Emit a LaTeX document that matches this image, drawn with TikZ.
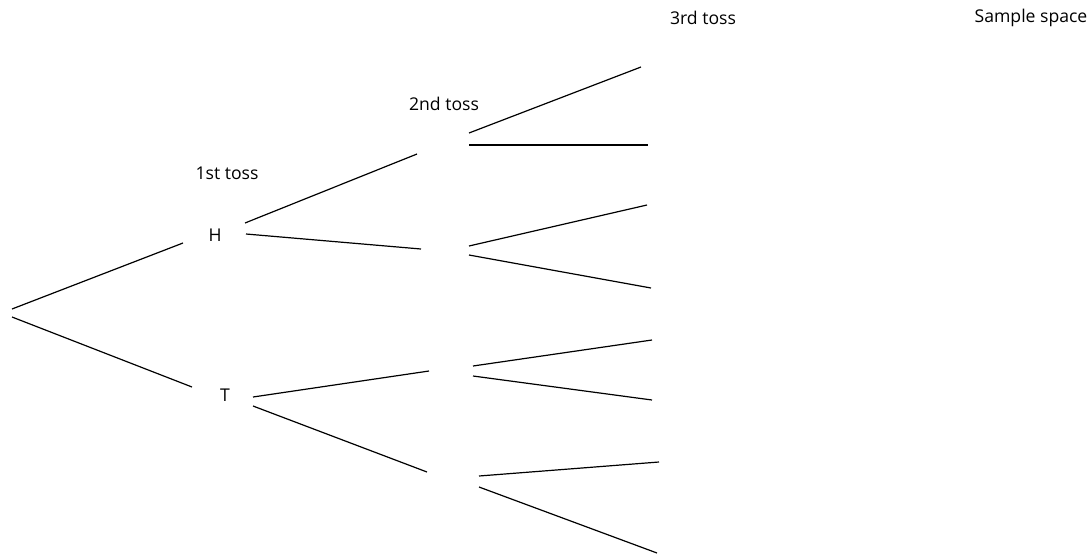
\documentclass[tikz,border=0pt]{standalone}
\usepackage{fontspec}
\setmainfont{Open Sans}
\begin{document}
\begin{tikzpicture}[x=1pt,y=-1pt,
  branch/.style={line width=1.2pt,black},
  lbl/.style={font=\fontsize{17.6}{20}\selectfont,inner sep=0pt}]
\useasboundingbox (0,0) rectangle (1092,555);
% labels
\node[lbl] (toss1) at (227,173) {1st toss};
\node[lbl] (toss2) at (444,104) {2nd toss};
\node[lbl] (toss3) at (703,18) {3rd toss};
\node[lbl] (space) at (1031,18) {Sample space};
\node[lbl] (H) at (215,235) {H};
\node[lbl] (T) at (225,395) {T};
% endpoints
\coordinate (r1) at (12,309);  \coordinate (h0) at (183,243);
\coordinate (r2) at (12,317);  \coordinate (t0) at (192,387);
\coordinate (h1) at (245,223); \coordinate (hh) at (417,154);
\coordinate (h2) at (246,234); \coordinate (ht) at (421,249);
\coordinate (t1) at (253,397); \coordinate (th) at (429,371);
\coordinate (t2) at (253,406); \coordinate (tt) at (427,472);
\coordinate (hh1) at (469,133); \coordinate (hhh) at (641,67);
\coordinate (hh2) at (469,145); \coordinate (hht) at (648,145);
\coordinate (ht1) at (469,246); \coordinate (hth) at (647,205);
\coordinate (ht2) at (469,255); \coordinate (htt) at (651,288);
\coordinate (th1) at (473,366); \coordinate (thh) at (652,340);
\coordinate (th2) at (473,376); \coordinate (tht) at (652,400);
\coordinate (tt1) at (479,476); \coordinate (tth) at (659,462);
\coordinate (tt2) at (479,487); \coordinate (ttt) at (657,553);
% branches
\draw[branch] (r1) -- (h0);
\draw[branch] (r2) -- (t0);
\draw[branch] (h1) -- (hh);
\draw[branch] (h2) -- (ht);
\draw[branch] (t1) -- (th);
\draw[branch] (t2) -- (tt);
\draw[branch] (hh1) -- (hhh);
\draw[branch] (hh2) -- (hht);
\draw[branch] (ht1) -- (hth);
\draw[branch] (ht2) -- (htt);
\draw[branch] (th1) -- (thh);
\draw[branch] (th2) -- (tht);
\draw[branch] (tt1) -- (tth);
\draw[branch] (tt2) -- (ttt);
\end{tikzpicture}
\end{document}
